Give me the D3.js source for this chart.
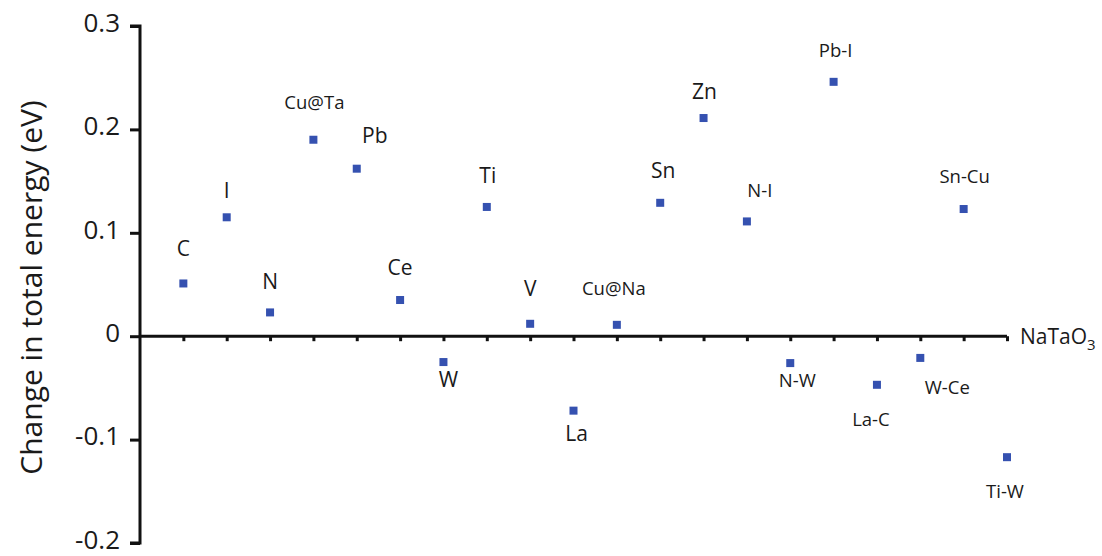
<!DOCTYPE html>
<html>
<head>
<meta charset="utf-8">
<script src="https://cdn.jsdelivr.net/npm/d3@7"></script>
<style>
  body { margin: 0; background: #fff; }
  svg text { font-family: "Open Sans", sans-serif; fill: #1a1a1a; }
</style>
</head>
<body>
<svg id="chart" width="1102" height="556"></svg>
<script>
// dopants in the order they appear along the x axis
const dopants = ["C", "I", "N", "Cu@Ta", "Pb", "Ce", "W", "Ti", "V", "La",
  "Cu@Na", "Sn", "Zn", "N-I", "N-W", "Pb-I", "La-C", "W-Ce", "Sn-Cu", "Ti-W"];
// change in total energy (eV)
const energies = [0.051, 0.115, 0.023, 0.190, 0.162, 0.035, -0.025, 0.125, 0.012, -0.072,
  0.011, 0.129, 0.211, 0.111, -0.026, 0.246, -0.047, -0.021, 0.123, -0.117];
const yTicks = [-0.2, -0.1, 0, 0.1, 0.2, 0.3];

// label offsets from each marker (px)
const labelOffsets = [[0, -35], [0, -27], [0, -31], [1, -37], [18, -33], [0, -33], [5, 17], [1, -32],
  [0, -35], [3, 23], [-3, -36], [3, -32], [1, -27], [13, -31], [7, 17], [2, -31], [-6, 35], [27, 29],
  [1, -33], [-2, 34]];

const svg = d3.select("#chart");
const margin = {top: 26, left: 140};

const x = d3.scaleLinear().domain([0, dopants.length]).range([140, 1007]);
const y = d3.scaleLinear().domain([-0.2, 0.3]).range([543, 26]);

// y axis
const yAxis = svg.append("g")
  .attr("transform", `translate(${margin.left},0)`)
  .call(d3.axisLeft(y).tickValues(yTicks).tickSize(10).tickPadding(10)
    .tickFormat(d => d === 0 ? "0" : d.toFixed(1)));
yAxis.select(".domain").attr("stroke", "#111").attr("stroke-width", 3)
  .attr("d", `M-10,${y(0.3)}H0V${y(-0.2)}H-10`);
yAxis.selectAll(".tick line").attr("stroke", "#111").attr("stroke-width", 3);
yAxis.selectAll(".tick text").style("font-size", "26px").attr("fill", "#1a1a1a")
  .attr("dy", "0.2em");

// x axis along zero
const xAxis = svg.append("g")
  .attr("transform", `translate(0,${y(0)})`)
  .call(d3.axisBottom(x).tickValues(d3.range(1, dopants.length + 1)).tickSize(5).tickFormat(""));
xAxis.select(".domain").attr("stroke", "#111").attr("stroke-width", 3)
  .attr("d", `M${x(0)},0H${x(dopants.length)}`);
xAxis.selectAll(".tick line").attr("stroke", "#111").attr("stroke-width", 3);

svg.append("text")
  .attr("x", x(dopants.length) + 13)
  .attr("y", y(0) + 8)
  .style("font-size", "21px")
  .text("NaTaO")
  .append("tspan")
  .attr("dy", 6)
  .style("font-size", "15px")
  .text("3");

// y title
svg.append("text")
  .attr("transform", `translate(42,${(y(0.3) + y(-0.2)) / 2 + 3}) rotate(-90)`)
  .style("text-anchor", "middle")
  .style("font-size", "30px")
  .text("Change in total energy (eV)");

// markers
const pts = dopants.map((d, i) => ({name: d, value: energies[i], i}));
svg.selectAll("rect.pt")
  .data(pts)
  .enter()
  .append("rect")
  .attr("class", "pt")
  .attr("x", d => x(d.i + 1) - 4)
  .attr("y", d => y(d.value) - 4)
  .attr("width", 8)
  .attr("height", 8)
  .attr("fill", "#3551b0");

svg.selectAll("text.lbl")
  .data(pts)
  .enter()
  .append("text")
  .attr("class", "lbl")
  .attr("x", d => x(d.i + 1) + labelOffsets[d.i][0])
  .attr("y", d => y(d.value) + labelOffsets[d.i][1])
  .attr("dy", "0.36em")
  .style("text-anchor", "middle")
  .style("font-size", d => d.name.length > 2 ? "18.5px" : "21px")
  .text(d => d.name);
</script>
</body>
</html>
